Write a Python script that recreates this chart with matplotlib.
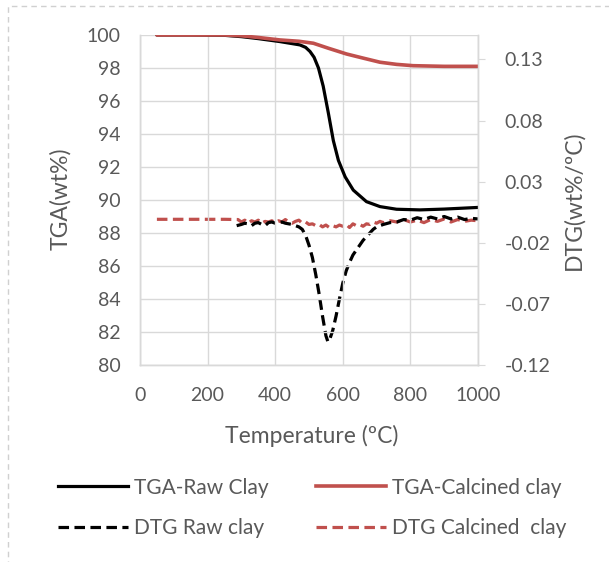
import numpy as np
import matplotlib.pyplot as plt
from matplotlib.patches import Rectangle
from matplotlib.lines import Line2D

plt.rcParams['font.family'] = ['Lato', 'DejaVu Sans']

# TGA curves (wt%)
tga_raw_T = [50, 150, 250, 300, 350, 414, 473, 490, 503, 515, 528, 542, 557, 572, 587, 607, 631, 670, 710, 759, 828, 900, 1000]
tga_raw = [100.0, 100.0, 99.98, 99.9, 99.78, 99.6, 99.4, 99.25, 99.0, 98.65, 98.0, 96.9, 95.3, 93.6, 92.4, 91.4, 90.6, 89.9, 89.6, 89.44, 89.4, 89.45, 89.55]

tga_calc_T = [50, 150, 250, 300, 350, 414, 470, 513, 557, 611, 660, 710, 759, 808, 900, 1000]
tga_calc = [100.0, 100.0, 100.0, 99.95, 99.85, 99.7, 99.62, 99.5, 99.2, 98.85, 98.6, 98.35, 98.22, 98.14, 98.1, 98.1]

# DTG curves (wt%/oC)
dtg_raw_T = [286, 300, 310, 320, 330, 340, 350, 360, 370, 380, 390, 400, 410, 420, 430, 440, 450, 460, 470, 480,
             490, 500, 510, 520, 530, 540, 550, 556, 560, 570, 580, 590, 600, 610, 620, 630, 640, 650, 660, 670,
             680, 690, 700, 710, 720, 740, 760, 780, 800, 820, 840, 860, 880, 900, 920, 940, 960, 980, 1000]
dtg_raw = [-0.006, -0.005, -0.004, -0.0045, -0.006, -0.004, -0.0035, -0.005, -0.006, -0.0035, -0.003, -0.004,
           -0.0035, -0.003, -0.004, -0.0045, -0.005, -0.006, -0.007, -0.009, -0.014, -0.022, -0.032, -0.046,
           -0.062, -0.080, -0.096, -0.101, -0.100, -0.092, -0.080, -0.066, -0.053, -0.043, -0.036, -0.030,
           -0.026, -0.022, -0.018, -0.015, -0.012, -0.009, -0.007, -0.006, -0.005, -0.0035, -0.003, -0.001,
           -0.0015, 0.0005, -0.001, 0.001, -0.0005, 0.0015, -0.0005, 0.001, -0.001, 0.0, -0.0005]

dtg_calc_T = [50, 150, 250, 290, 300, 310, 320, 330, 340, 350, 360, 370, 380, 390, 400, 410, 420, 430, 440, 450,
              460, 470, 480, 490, 500, 510, 520, 530, 540, 550, 560, 570, 580, 590, 600, 610, 620, 630, 640, 650,
              660, 670, 680, 690, 700, 710, 720, 740, 760, 780, 800, 820, 840, 860, 880, 900, 920, 940, 960, 980, 1000]
dtg_calc = [-0.0008, -0.0008, -0.0008, -0.001, -0.003, -0.0015, -0.004, -0.002, -0.003, -0.0015, -0.004, -0.0025,
            -0.003, -0.002, -0.0035, -0.002, -0.003, -0.001, -0.003, -0.004, -0.0025, -0.0015, -0.004, -0.003,
            -0.005, -0.0045, -0.006, -0.005, -0.007, -0.0055, -0.0075, -0.006, -0.007, -0.0055, -0.0065, -0.005,
            -0.0075, -0.0045, -0.006, -0.005, -0.0065, -0.0045, -0.005, -0.003, -0.004, -0.0025, -0.0035, -0.002,
            -0.003, -0.001, -0.003, -0.0015, -0.0035, -0.001, -0.0025, -0.0005, -0.003, -0.001, -0.0025, -0.0015, -0.002]

x_ticks = [0, 200, 400, 600, 800, 1000]
left_ticks = [80, 82, 84, 86, 88, 90, 92, 94, 96, 98, 100]
right_ticks = [-0.12, -0.07, -0.02, 0.03, 0.08, 0.13]

red = '#C0504D'
grid_c = '#D9D9D9'
text_c = '#595959'

fig = plt.figure(figsize=(6.09, 5.62), dpi=100)
ax = fig.add_axes([140/609, 1-365/562, 338/609, 330/562])
ax2 = ax.twinx()

ax.plot(tga_raw_T, tga_raw, color='black', lw=2.3, solid_capstyle='round')
ax.plot(tga_calc_T, tga_calc, color=red, lw=2.6, solid_capstyle='round')
ax2.plot(dtg_calc_T, dtg_calc, color=red, lw=2.3, dashes=(3.3, 1.7))
ax2.plot(dtg_raw_T, dtg_raw, color='black', lw=2.3, dashes=(3.3, 1.7))
ax.set_zorder(ax2.get_zorder() + 1)
ax.patch.set_visible(False)

ax.set_xlim(0, 1000)
ax.set_ylim(80, 100)
ax2.set_ylim(-0.12, 0.15)
ax.set_xticks(x_ticks)
ax.set_yticks(left_ticks)
ax2.set_yticks(right_ticks)
ax2.set_yticklabels(['%.2f' % v for v in right_ticks])

ax.grid(True, color=grid_c, lw=1)
ax.set_axisbelow(True)
for a in (ax, ax2):
    for s in a.spines.values():
        s.set_color(grid_c)
        s.set_linewidth(1)
ax.spines['top'].set_visible(False)
ax2.spines['top'].set_visible(False)

ax.tick_params(axis='both', length=0, labelsize=14, labelcolor=text_c, pad=14)
ax.tick_params(axis='x', pad=16)
ax2.tick_params(axis='y', length=5, color=grid_c, labelsize=14, labelcolor=text_c, pad=14)

fig.text(60/609, 1-199/562, 'TGA(wt%)', rotation=90, ha='center', va='center', fontsize=16.5, color=text_c)
fig.text(574/609, 1-200/562, 'DTG(wt%/ºC)', rotation=90, ha='center', va='center', fontsize=16.5, color=text_c)
fig.text(312/609, 1-436/562, 'Temperature (ºC)', ha='center', va='center', fontsize=16.5, color=text_c)

handles = [
    Line2D([], [], color='black', lw=2.3),
    Line2D([], [], color='black', lw=2.3, dashes=(3.3, 1.7)),
    Line2D([], [], color=red, lw=2.6),
    Line2D([], [], color=red, lw=2.3, dashes=(3.3, 1.7)),
]
labels = ['TGA-Raw Clay', 'DTG Raw clay', 'TGA-Calcined clay', 'DTG Calcined  clay']
leg = fig.legend(handles, labels, ncol=2, loc='center left', bbox_to_anchor=(39/609, 1-508/562),
                 frameon=False, fontsize=15, handlelength=3.35, handletextpad=0.3,
                 columnspacing=2.3, labelspacing=1.0)
for t in leg.get_texts():
    t.set_color(text_c)

fig.add_artist(Rectangle((8/609, -0.02), 1.0, 1-6/562 + 0.02, transform=fig.transFigure,
                         fill=False, edgecolor='#D0D0D0', lw=1, ls=(0, (4, 3))))

fig.savefig('out.png', dpi=100)
